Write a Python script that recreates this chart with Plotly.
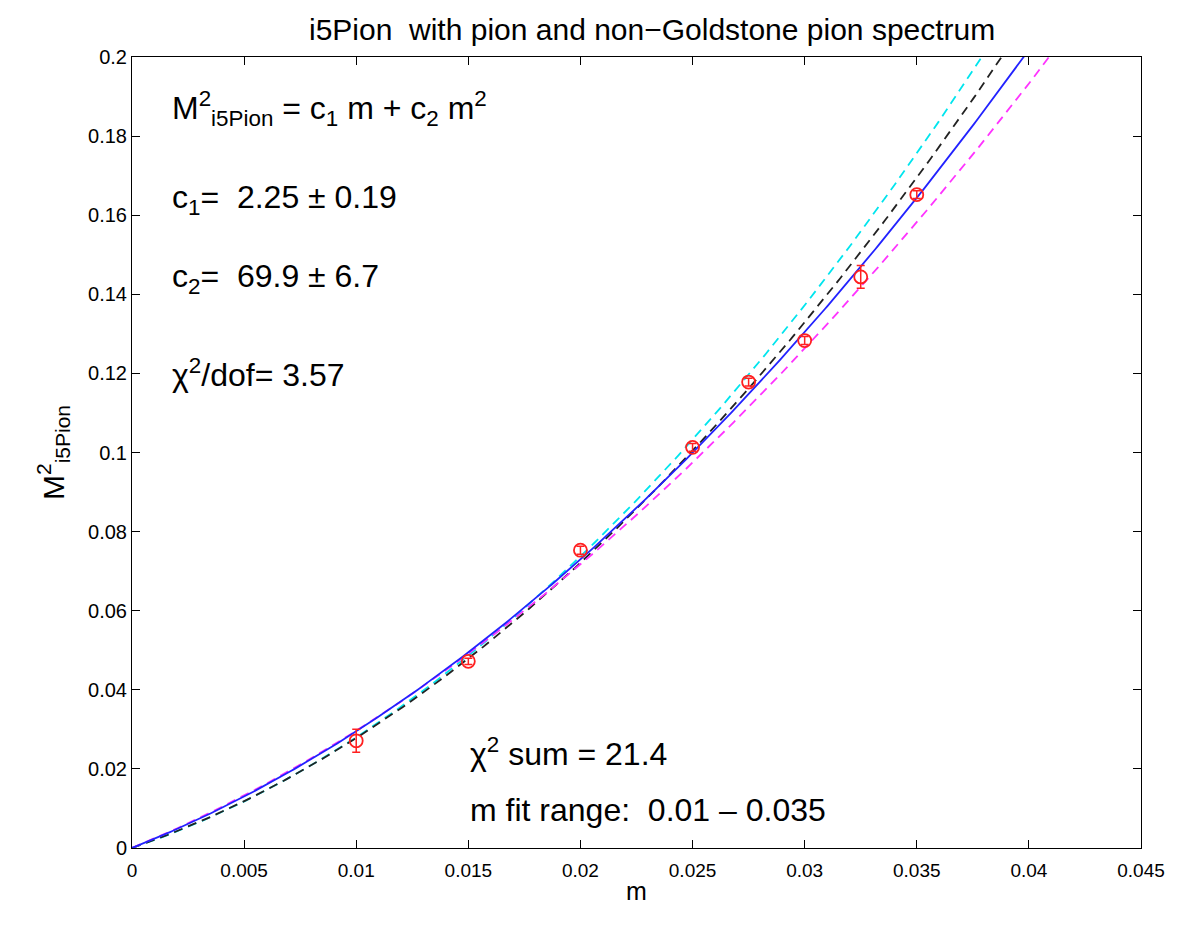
import numpy as np
import plotly.graph_objects as go

# data points
m_vals = [0.01, 0.015, 0.02, 0.025, 0.0275, 0.03, 0.0325, 0.035]
msq_vals = [0.0271, 0.0472, 0.0753, 0.1013, 0.1178, 0.1283, 0.1444, 0.1652]
msq_err = [0.0029, 0.0008, 0.0010, 0.0010, 0.0010, 0.0010, 0.0029, 0.0010]

# fit curves: M^2 = c1 m + c2 m^2
fit_names = ["cyan", "black", "magenta", "blue"]
fit_c1 = [1.91, 1.955, 2.34, 2.25]
fit_c2 = [88.8, 82.5, 62.3, 69.9]
fit_colors = ["#00e5ee", "#222222", "#ff33ff", "#2222ff"]
fit_dash = ["9px,6px", "9px,6px", "9px,6px", "solid"]

x_ticks = [0, 0.005, 0.01, 0.015, 0.02, 0.025, 0.03, 0.035, 0.04, 0.045]
y_ticks = [0, 0.02, 0.04, 0.06, 0.08, 0.1, 0.12, 0.14, 0.16, 0.18, 0.2]

FONT = "Liberation Sans, Arial, Helvetica, sans-serif"

fig = go.Figure()
mm = np.linspace(0, 0.045, 400)
for name, c1, c2, col, dsh in zip(fit_names, fit_c1, fit_c2, fit_colors, fit_dash):
    fig.add_trace(go.Scatter(x=mm, y=c1 * mm + c2 * mm ** 2, mode="lines",
                             line=dict(color=col, width=1.8, dash=dsh),
                             name=name, showlegend=False, hoverinfo="skip"))

fig.add_trace(go.Scatter(
    x=m_vals, y=msq_vals, mode="markers",
    marker=dict(symbol="circle-open", size=13, color="#ff2020", line=dict(width=1.8)),
    error_y=dict(type="data", array=msq_err, color="#ff2020", thickness=1.5, width=4),
    showlegend=False))

ax_common = dict(showline=True, linecolor="black", linewidth=1, mirror="ticks",
                 ticks="inside", ticklen=8, tickcolor="black", showgrid=False,
                 zeroline=False)

fig.update_xaxes(range=[0, 0.045], tickvals=x_ticks,
                 ticktext=[("%g" % v) for v in x_ticks], ticklabelstandoff=5,
                 tickfont=dict(family=FONT, size=19, color="black"),
                 title=dict(text="m", font=dict(family=FONT, size=25, color="black"), standoff=2),
                 **ax_common)
fig.update_yaxes(range=[0, 0.2], tickvals=y_ticks,
                 ticktext=[("%g" % v) for v in y_ticks],
                 tickfont=dict(family=FONT, size=20, color="black"),
                 title=dict(text="M<sup>2</sup><sub>i5Pion</sub>",
                            font=dict(family=FONT, size=30, color="black"), standoff=14),
                 **ax_common)

ann_font = dict(family=FONT, size=32, color="black")
annots = [
    (0.0017, 0.187, "M<sup>2</sup><sub>i5Pion</sub> = c<sub>1</sub> m + c<sub>2</sub> m<sup>2</sup>"),
    (0.0017, 0.164, "c<sub>1</sub>=  2.25 ± 0.19"),
    (0.0017, 0.144, "c<sub>2</sub>=  69.9 ± 6.7"),
    (0.0017, 0.120, "χ<sup>2</sup>/dof= 3.57"),
    (0.0150, 0.0242, "χ<sup>2</sup> sum = 21.4"),
    (0.0150, 0.0097, "m fit range:  0.01 – 0.035"),
]
for ax_, ay_, txt in annots:
    fig.add_annotation(x=ax_, y=ay_, text=txt, showarrow=False, xanchor="left",
                       yanchor="middle", font=ann_font)

fig.update_layout(
    width=1169, height=904,
    margin=dict(l=124, r=24, t=49, b=50),
    paper_bgcolor="white", plot_bgcolor="white",
    title=dict(text="i5Pion  with pion and non\u2212Goldstone pion spectrum",
               x=0.551, xanchor="center", y=0.988, yanchor="top",
               font=dict(family=FONT, size=30, color="black")),
)

fig.write_html("out.html")
